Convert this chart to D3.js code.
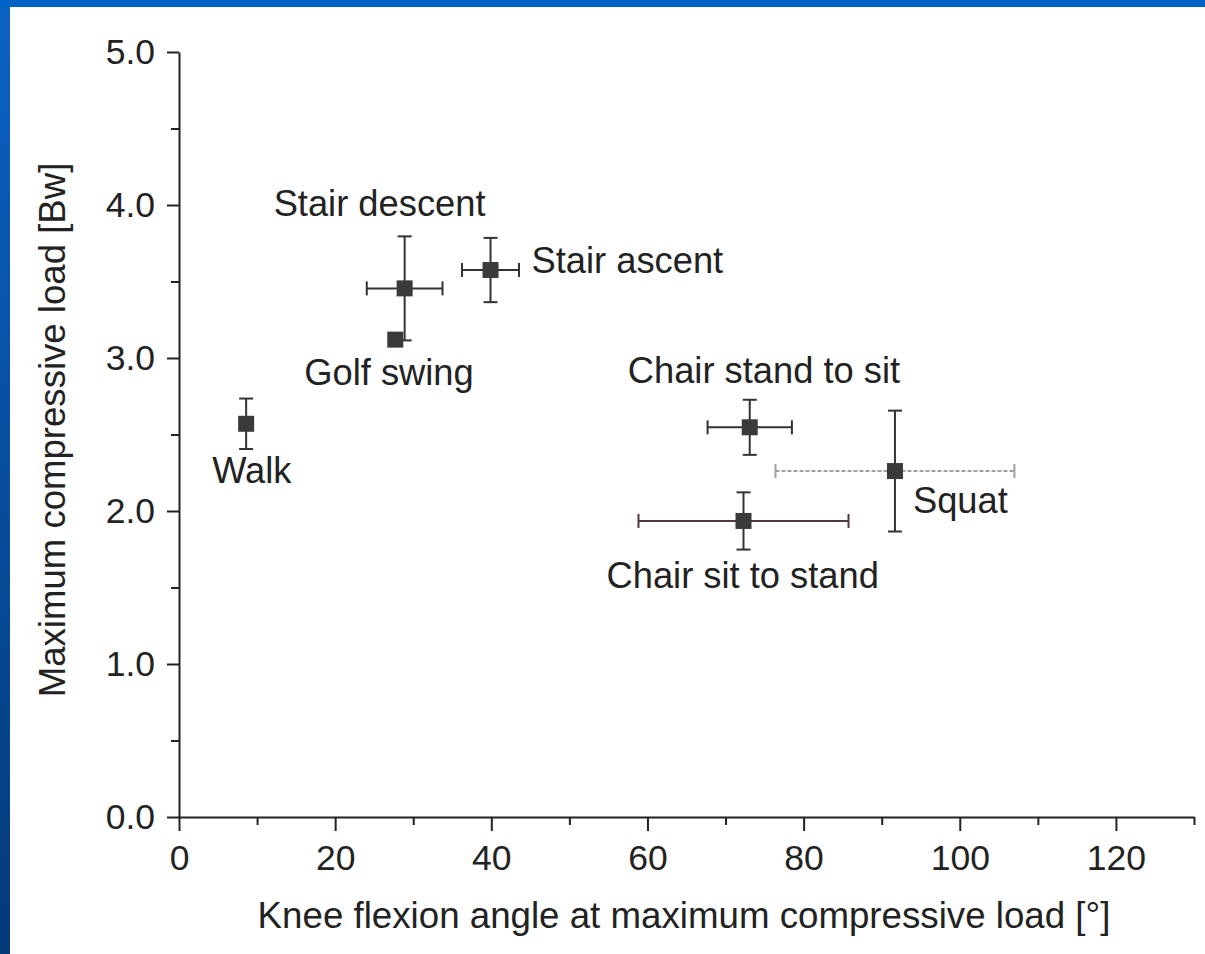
<!DOCTYPE html>
<html>
<head>
<meta charset="utf-8">
<script src="https://cdn.jsdelivr.net/npm/d3@7"></script>
<style>
  html, body { margin: 0; padding: 0; background: #fff; }
  svg { display: block; }
  text { font-family: "Liberation Sans", Arial, Helvetica, sans-serif; fill: #222; }
</style>
</head>
<body>
<svg id="chart" width="1205" height="954"></svg>
<script>
// ---- data ----
const activities = ["Stair descent", "Golf swing", "Stair ascent", "Walk", "Chair stand to sit", "Squat", "Chair sit to stand"];
const kneeAngle  = [28.9, 27.7, 39.9, 8.6, 73.1, 91.7, 72.3];
const angleErr   = [4.85, 0, 3.65, 0, 5.4, 15.3, 13.45];
const load       = [3.455, 3.12, 3.575, 2.57, 2.547, 2.261, 1.935];
const loadErr    = [0.34, 0, 0.21, 0.165, 0.18, 0.395, 0.187];
const xTicks = [0, 20, 40, 60, 80, 100, 120];
const xMinorTicks = [10, 30, 50, 70, 90, 110, 130];
const yTicks = [0, 1, 2, 3, 4, 5];
const yMinorTicks = [0.5, 1.5, 2.5, 3.5, 4.5];
const xTitle = "Knee flexion angle at maximum compressive load [°]";
const yTitle = "Maximum compressive load [Bw]";

// label placement (offsets from the point, px)
const labelDx = [-131, -91, 41, -34, -122, 18, -137];
const labelDy = [-72, 45, 3, 59, -44, 42, 67];

const svg = d3.select("#chart");
const W = 1205, H = 954;

// slide background
const defs = svg.append("defs");
const grad = defs.append("linearGradient").attr("id", "sideGrad").attr("x1", 0).attr("y1", 0).attr("x2", 0).attr("y2", 1);
grad.append("stop").attr("offset", "0%").attr("stop-color", "#0a62c4");
grad.append("stop").attr("offset", "100%").attr("stop-color", "#043a78");
svg.append("rect").attr("width", W).attr("height", H).attr("fill", "#ffffff");
svg.append("rect").attr("x", 0).attr("y", 0).attr("width", 10).attr("height", H).attr("fill", "url(#sideGrad)");
svg.append("rect").attr("x", 0).attr("y", 0).attr("width", W).attr("height", 7).attr("fill", "#0062c2");

// scales
const x = d3.scaleLinear().domain([0, 130]).range([179, 1194]);
const y = d3.scaleLinear().domain([0, 5]).range([817, 52]);

const axisColor = "#222";

// x axis
const gx = svg.append("g").attr("transform", `translate(0,${y(0)})`)
  .call(d3.axisBottom(x).tickValues(xTicks).tickFormat(d3.format("d")).tickSize(14).tickSizeOuter(0).tickPadding(14));
const gxm = svg.append("g").attr("transform", `translate(0,${y(0)})`)
  .call(d3.axisBottom(x).tickValues(xMinorTicks).tickFormat("").tickSize(8).tickSizeOuter(0));
gxm.select(".domain").remove();

// y axis
const gy = svg.append("g").attr("transform", `translate(${x(0)},0)`)
  .call(d3.axisLeft(y).tickValues(yTicks).tickFormat(d3.format(".1f")).tickSize(12).tickSizeOuter(0).tickPadding(12));
const gym = svg.append("g").attr("transform", `translate(${x(0)},0)`)
  .call(d3.axisLeft(y).tickValues(yMinorTicks).tickFormat("").tickSize(8).tickSizeOuter(0));
gym.select(".domain").remove();

[gx, gxm, gy, gym].forEach(g => {
  g.selectAll("path, line").attr("stroke", axisColor).attr("stroke-width", 2);
  g.selectAll("text").attr("font-size", 35.5).attr("font-family", "Liberation Sans, Arial, sans-serif").attr("fill", "#222");
});

// axis titles
svg.append("text")
  .attr("x", 684).attr("y", 928)
  .attr("text-anchor", "middle")
  .attr("font-size", 36.7)
  .text(xTitle);
svg.append("text")
  .attr("transform", `translate(65,430) rotate(-90)`)
  .attr("text-anchor", "middle")
  .attr("font-size", 36.6)
  .text(yTitle);

// data rows
const rows = activities.map((a, i) => ({
  name: a, ang: kneeAngle[i], angE: angleErr[i], ld: load[i], ldE: loadErr[i],
  dx: labelDx[i], dy: labelDy[i]
}));

const cap = 7;
const barColor = "#333";
const hColor = d => d.name === "Squat" ? "#a0a0a0" : (d.name === "Chair sit to stand" ? "#4d3b40" : barColor);
const hDash = d => d.name === "Squat" ? "4,2" : null;

const eb = svg.append("g");
// horizontal error bars
rows.filter(d => d.angE > 0).forEach(d => {
  const g = eb.append("g").attr("stroke", hColor(d)).attr("stroke-width", 2);
  g.append("line").attr("x1", x(d.ang - d.angE)).attr("x2", x(d.ang + d.angE))
    .attr("y1", y(d.ld)).attr("y2", y(d.ld)).attr("stroke-dasharray", hDash(d));
  [d.ang - d.angE, d.ang + d.angE].forEach(v => {
    g.append("line").attr("x1", x(v)).attr("x2", x(v)).attr("y1", y(d.ld) - cap).attr("y2", y(d.ld) + cap);
  });
});
// vertical error bars
rows.filter(d => d.ldE > 0).forEach(d => {
  const g = eb.append("g").attr("stroke", barColor).attr("stroke-width", 2);
  g.append("line").attr("x1", x(d.ang)).attr("x2", x(d.ang))
    .attr("y1", y(d.ld - d.ldE)).attr("y2", y(d.ld + d.ldE));
  [d.ld - d.ldE, d.ld + d.ldE].forEach(v => {
    g.append("line").attr("x1", x(d.ang) - cap).attr("x2", x(d.ang) + cap).attr("y1", y(v)).attr("y2", y(v));
  });
});

// markers
const ms = 16;
svg.append("g").selectAll("rect").data(rows).join("rect")
  .attr("x", d => x(d.ang) - ms / 2)
  .attr("y", d => y(d.ld) - ms / 2)
  .attr("width", ms).attr("height", ms)
  .attr("fill", "#3a3a3a");

// labels
svg.append("g").selectAll("text").data(rows).join("text")
  .attr("x", d => x(d.ang) + d.dx)
  .attr("y", d => y(d.ld) + d.dy)
  .attr("font-size", 36.3)
  .text(d => d.name);
</script>
</body>
</html>
